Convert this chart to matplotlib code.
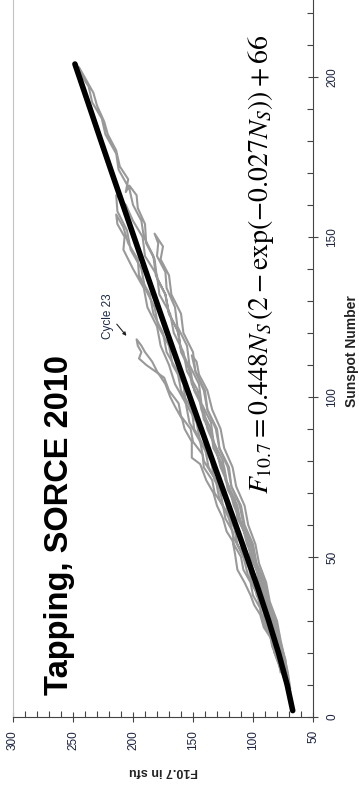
import numpy as np
import matplotlib
matplotlib.use("Agg")
import matplotlib.pyplot as plt
from matplotlib.ticker import MultipleLocator

plt.rcParams['font.family'] = ['Liberation Sans', 'DejaVu Sans']
plt.rcParams['mathtext.fontset'] = 'stix'

# fit curve (sunspot number, F10.7)
fit_n = [2, 10, 20, 30, 40, 50, 60, 70, 80, 90, 100, 110, 120, 130, 140, 150, 160, 170, 180, 190, 204]
fit_f = [66.9, 71.5, 78.7, 86.9, 95.7, 105.0, 114.4, 124.0, 133.6, 143.1, 152.6, 162.0, 171.4,
         180.7, 190.0, 199.2, 208.4, 217.6, 226.7, 235.7, 248.4]

# smoothed cycles (gray), rising then declining branch
c18_n = [12, 18, 24, 30, 36, 42, 48, 54, 60, 66, 72, 78, 84, 90, 96, 102, 108, 114, 120, 126, 132, 138,
         143, 147, 151, 148, 144, 139, 134, 128, 122, 116, 110, 104, 98, 92, 86, 80, 74, 68, 62, 56, 50,
         44, 38, 32, 26, 20, 15]
c18_f = [71, 73, 78, 81, 87, 90, 97, 100, 107, 110, 118, 120, 128, 130, 138, 140, 148, 150, 158, 160, 168, 170,
         177, 175, 182, 179, 180, 173, 172, 165, 163, 155, 153, 145, 143, 135, 133, 125, 123, 115, 113, 104, 102,
         94, 91, 84, 81, 75, 73]

c19_n = [8, 13, 17, 22, 26, 31, 36, 40, 45, 50, 55, 60, 66, 71, 77, 82, 88, 93, 99, 104, 110, 115, 121, 126,
         132, 137, 143, 148, 154, 159, 163, 166, 164, 168, 172, 177, 182, 186, 191, 195, 199, 203,
         201, 197, 192, 187, 182, 176, 171, 165, 160, 155, 150, 144, 138, 132, 126, 120, 114, 108, 102,
         96, 90, 84, 78, 72, 66, 60, 54, 48, 42, 36, 30, 24, 18, 13]
c19_f = [69, 71, 74, 76, 81, 84, 89, 93, 96, 102, 104, 110, 114, 121, 124, 130, 134, 141, 144, 151, 154, 160,
         163, 170, 173, 180, 182, 189, 190, 196, 197, 203, 206, 204, 211, 214, 221, 224, 230, 233, 239, 245,
         244, 237, 234, 226, 223, 214, 212, 203, 200, 193, 191, 183, 181, 173, 170, 162, 160, 152, 149,
         141, 138, 131, 127, 120, 116, 109, 105, 98, 95, 89, 85, 79, 76, 72]

c20_n = [9, 14, 19, 24, 30, 36, 42, 48, 54, 60, 66, 72, 78, 84, 90, 96, 102, 107, 111, 113, 108, 102, 96,
         90, 84, 78, 72, 66, 60, 54, 48, 42, 36, 30, 24, 18, 12]
c20_f = [69, 71, 74, 77, 80, 86, 89, 95, 98, 104, 107, 114, 117, 124, 127, 134, 138, 145, 147, 151, 148, 141, 138,
         131, 128, 121, 118, 111, 108, 101, 98, 92, 88, 82, 79, 74, 71]

c21_n = [10, 15, 20, 26, 32, 38, 44, 50, 56, 62, 68, 74, 80, 86, 92, 98, 104, 110, 116, 122, 128, 134, 140,
         146, 152, 158, 163, 160, 155, 150, 144, 138, 132, 126, 120, 114, 108, 102, 96, 90, 84, 78, 72,
         66, 60, 54, 48, 42, 36, 30, 24, 18, 12]
c21_f = [72, 77, 79, 86, 89, 97, 100, 108, 111, 120, 123, 132, 135, 144, 147, 156, 158, 167, 170, 179, 182, 190, 193,
         202, 205, 213, 214, 206, 200, 192, 190, 180, 178, 169, 166, 158, 155, 146, 143, 135, 133, 124, 121,
         113, 110, 102, 99, 91, 88, 82, 78, 74, 71]

c22_n = [14, 20, 26, 32, 38, 44, 50, 56, 62, 68, 74, 80, 86, 92, 98, 104, 110, 116, 122, 128, 134, 140,
         146, 150, 154, 157, 153, 148, 143, 138, 132, 126, 120, 114, 108, 102, 96, 90, 84, 78, 72, 66,
         60, 54, 48, 42, 36, 30, 24, 18]
c22_f = [76, 82, 86, 93, 96, 104, 108, 116, 120, 128, 131, 141, 144, 153, 156, 165, 170, 177, 180, 188, 191, 200,
         208, 207, 213, 214, 208, 204, 196, 195, 186, 183, 175, 172, 163, 160, 151, 149, 140, 137, 128, 125,
         116, 113, 104, 101, 93, 90, 82, 79]

c23_n = [10, 15, 20, 24, 28, 32, 35, 38, 42, 46, 51, 55, 58, 62, 66, 70, 74, 79, 81, 86, 90, 93, 97, 100,
         104, 108, 111, 114, 116, 118, 116, 114, 112, 110, 106, 102, 98, 94, 90, 86, 82, 78, 74, 70, 66,
         62, 58, 54, 50, 46, 42, 38, 34, 30, 26, 22, 18, 14]
c23_f = [72, 77, 82, 84, 91, 94, 99, 102, 107, 113, 115, 117, 122, 125, 130, 133, 139, 144, 151, 151, 157, 159,
         165, 169, 173, 180, 184, 190, 193, 197, 196, 193, 195, 189, 174, 170, 162, 160, 152, 150, 142, 141,
         134, 132, 125, 123, 117, 116, 110, 108, 102, 100, 94, 92, 86, 84, 79, 77]

cycles = [(c18_n, c18_f), (c19_n, c19_f), (c20_n, c20_f), (c21_n, c21_f), (c22_n, c22_f), (c23_n, c23_f)]

fig = plt.figure(figsize=(3.59, 7.88), dpi=100)
ax = fig.add_axes([13 / 359, 71 / 788, 300 / 359, 717 / 788])

for n, f in cycles:
    ax.plot(f, n, color='#999999', lw=1.5, zorder=2)
ax.plot(fit_f, fit_n, color='black', lw=4, solid_capstyle='round', zorder=3)

ax.set_xlim(300, 50)
ax.set_ylim(0, 224)

ax.spines['top'].set_visible(False)
ax.spines['left'].set_color('#c4c4c4')
ax.spines['bottom'].set_color('#444444')
ax.spines['right'].set_color('#444444')

ax.xaxis.set_major_locator(MultipleLocator(50))
ax.xaxis.set_minor_locator(MultipleLocator(10))
ax.yaxis.set_major_locator(MultipleLocator(50))
ax.yaxis.set_minor_locator(MultipleLocator(10))
ax.yaxis.tick_right()
ax.tick_params(axis='x', which='major', direction='inout', length=7, width=0.8, color='#444444',
               pad=6, labelsize=8.5, labelcolor='#1c2240', labelrotation=90)
ax.tick_params(axis='x', which='minor', direction='in', length=4, width=0.8, color='#444444')
ax.tick_params(axis='y', which='major', direction='inout', length=7, width=0.8, color='#444444',
               pad=6, labelsize=8.5, labelcolor='#1c2240', labelrotation=90)
ax.tick_params(axis='y', which='minor', direction='in', length=4, width=0.8, color='#444444')
for lab in ax.get_yticklabels():
    lab.set_va('center')

fig.text(163 / 359, 1 - 771 / 788, 'F10.7 in sfu', rotation=180, ha='center', va='center',
         fontsize=9, fontweight='bold', color='#222222')
fig.text(352 / 359, 1 - 351 / 788, 'Sunspot Number', rotation=90, ha='center', va='center',
         fontsize=10, fontweight='bold', color='#222222')

fig.text(60 / 359, 1 - 525 / 788, 'Tapping, SORCE 2010', rotation=90, ha='center', va='center',
         fontsize=23.5, fontweight='bold', color='black')

fig.text(261 / 359, 1 - 264 / 788,
         r'$F_{10.7}=0.448N_S\,(2-\exp(-0.027N_S))+66$',
         rotation=90, ha='center', va='center', fontsize=20, color='black')

ax.text(220.8, 125.3, 'Cycle 23', rotation=90, ha='center', va='center', fontsize=8.5, color='#1c2a4a')
ax.annotate('', xy=(204, 118.4), xytext=(215, 123.4),
            arrowprops=dict(arrowstyle='-|>', lw=0.8, color='#222222', mutation_scale=5))

fig.savefig('out.png', dpi=100)
